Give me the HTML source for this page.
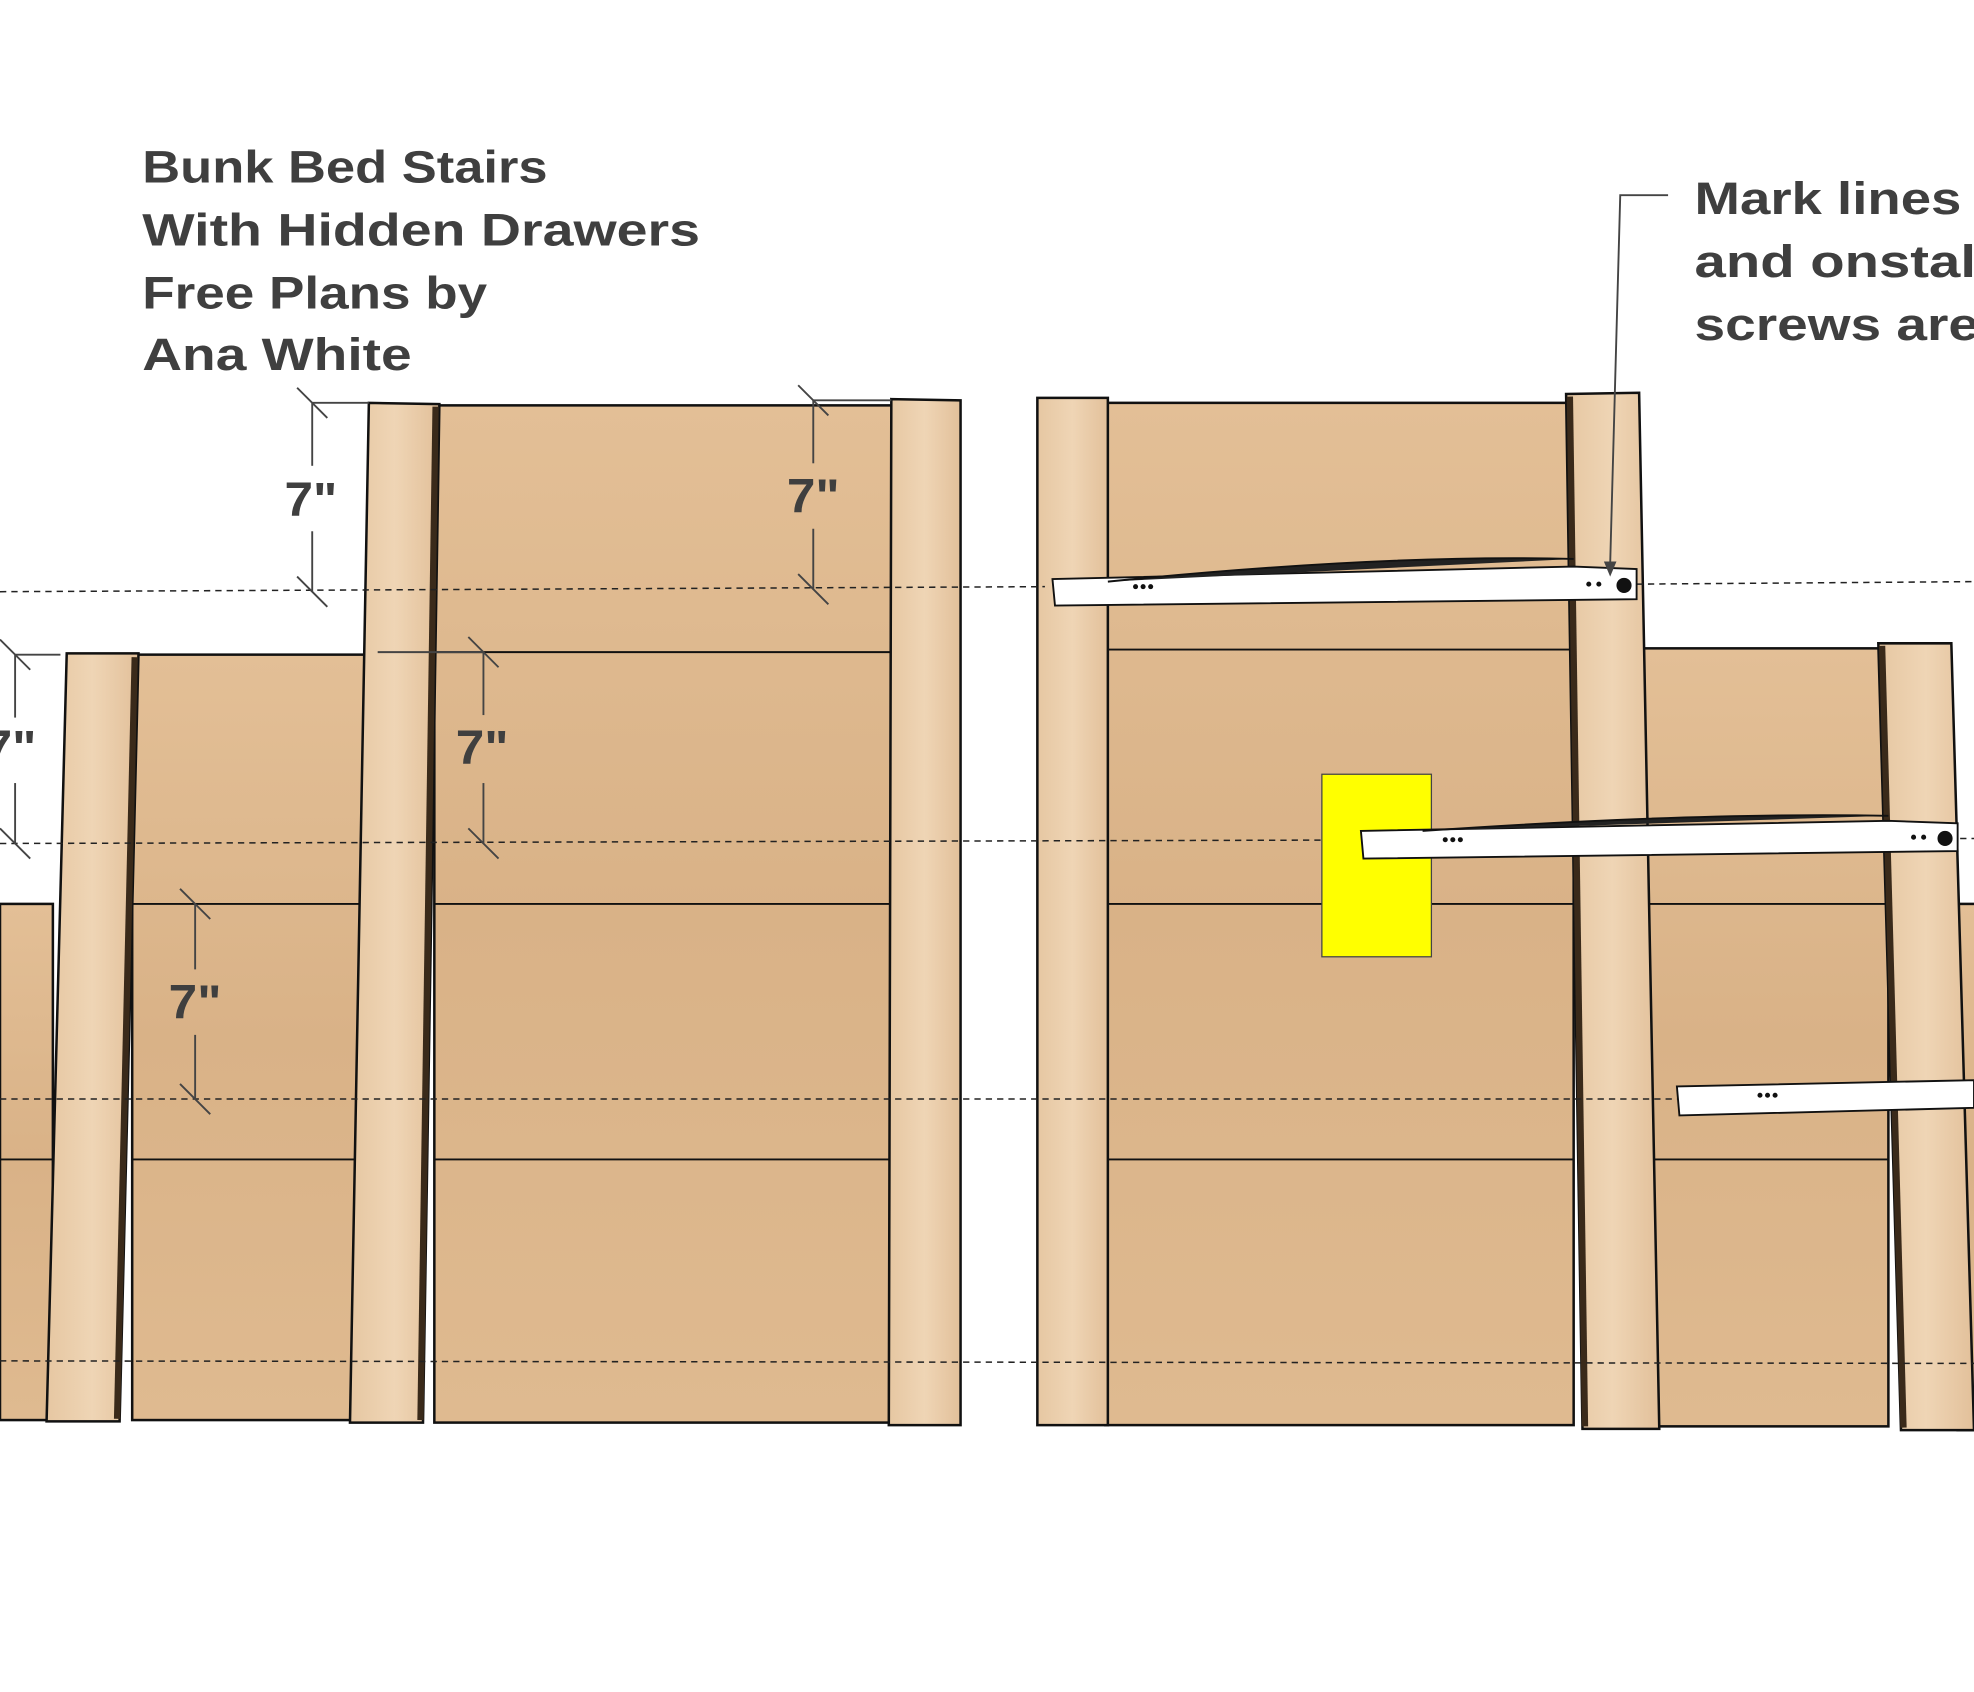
<!DOCTYPE html>
<html><head><meta charset="utf-8"><style>
html,body{margin:0;padding:0;background:#fff;}
svg{display:block;}
text{font-family:"Liberation Sans","DejaVu Sans",sans-serif;font-weight:bold;fill:#3f3f3f;}
</style></head><body>
<svg width="1974" height="1692" viewBox="0 0 1568 1344" xmlns="http://www.w3.org/2000/svg">
<defs>
<linearGradient id="wood" x1="0" y1="0" x2="0" y2="1">
<stop offset="0" stop-color="#e3bf96"/><stop offset="0.5" stop-color="#d9b287"/><stop offset="1" stop-color="#dfba90"/>
</linearGradient>
<linearGradient id="leg" x1="0" y1="0" x2="1" y2="0">
<stop offset="0" stop-color="#e6c7a2"/><stop offset="0.5" stop-color="#efd5b5"/><stop offset="1" stop-color="#e2c09a"/>
</linearGradient>
</defs>
<g stroke="#111" stroke-width="2">
<rect x="0" y="718" width="42" height="410" fill="url(#wood)"/>
<rect x="105" y="520" width="188" height="608" fill="url(#wood)"/>
<rect x="345" y="322" width="365" height="808" fill="url(#wood)"/>
<rect x="878" y="320" width="372" height="812" fill="url(#wood)"/>
<rect x="1305" y="515" width="195" height="618" fill="url(#wood)"/>
<rect x="1555" y="718" width="20" height="418" fill="url(#wood)"/>
</g>
<g stroke="#111" stroke-width="1.5">
<line x1="0" y1="921" x2="42" y2="921"/>
<line x1="105" y1="718" x2="293" y2="718"/><line x1="105" y1="921" x2="293" y2="921"/>
<line x1="345" y1="518" x2="710" y2="518"/><line x1="345" y1="718" x2="710" y2="718"/><line x1="345" y1="921" x2="710" y2="921"/>
<line x1="878" y1="516" x2="1250" y2="516"/><line x1="878" y1="718" x2="1250" y2="718"/><line x1="878" y1="921" x2="1250" y2="921"/>
<line x1="1305" y1="718" x2="1500" y2="718"/><line x1="1305" y1="921" x2="1500" y2="921"/>
</g>
<g stroke="#111" stroke-width="2" fill="url(#leg)">
<polygon points="53,519 110,519 95,1129 37,1129"/>
<polygon points="293,320 349,321 336,1130 278,1130"/>
<polygon points="708,317 763,318 763,1132 706,1132"/>
<polygon points="824,316 880,316 880,1132 824,1132"/>
<polygon points="1244,313 1302,312 1318,1135 1257,1135"/>
<polygon points="1492,511 1550,511 1568,1136 1510,1136"/>
</g>
<g stroke="#3a2a1a" stroke-width="5">
<line x1="107" y1="522" x2="93" y2="1127"/>
<line x1="346" y1="323" x2="334" y2="1128"/>
<line x1="1247" y1="315" x2="1259" y2="1133"/>
<line x1="1495" y1="513" x2="1512" y2="1134"/>
</g>
<g stroke="#222" stroke-width="1.2" stroke-dasharray="5,4">
<line x1="0" y1="470" x2="830" y2="466"/><line x1="1300" y1="464" x2="1568" y2="462"/>
<line x1="0" y1="670" x2="1568" y2="666"/>
<line x1="0" y1="873" x2="1568" y2="873"/>
<line x1="0" y1="1081" x2="1568" y2="1083"/>
</g>
<rect x="1050" y="615" width="87" height="145" fill="#ffff00" stroke="#444" stroke-width="1"/>
<g stroke="#111" stroke-width="1.5" fill="#fff">
<polygon points="836,460 1250,450 1300,452 1300,476 838,481"/>
<path d="M880,462 Q1100,440 1250,444" fill="#222"/>
<polygon points="1081,660 1500,652 1555,654 1555,676 1083,682"/>
<path d="M1130,660 Q1350,645 1500,648" fill="#222"/>
<polygon points="1332,863 1568,858 1568,880 1334,886"/>
</g>
<g fill="#111"><circle cx="1290" cy="465" r="6"/><circle cx="1545" cy="666" r="6"/>
<circle cx="902" cy="466" r="2"/><circle cx="908" cy="466" r="2"/><circle cx="914" cy="466" r="2"/>
<circle cx="1148" cy="667" r="2"/><circle cx="1154" cy="667" r="2"/><circle cx="1160" cy="667" r="2"/>
<circle cx="1398" cy="870" r="2"/><circle cx="1404" cy="870" r="2"/><circle cx="1410" cy="870" r="2"/>
<circle cx="1262" cy="464" r="2"/><circle cx="1270" cy="464" r="2"/><circle cx="1520" cy="665" r="2"/><circle cx="1528" cy="665" r="2"/></g>
<g stroke="#444" stroke-width="1.5">
<line x1="248" y1="320" x2="248" y2="370"/><line x1="248" y1="422" x2="248" y2="470"/>
<line x1="236" y1="308" x2="260" y2="332"/><line x1="236" y1="458" x2="260" y2="482"/><line x1="248" y1="320" x2="293" y2="320"/>
<line x1="646" y1="318" x2="646" y2="368"/><line x1="646" y1="420" x2="646" y2="468"/>
<line x1="634" y1="306" x2="658" y2="330"/><line x1="634" y1="456" x2="658" y2="480"/><line x1="646" y1="318" x2="708" y2="318"/>
<line x1="384" y1="518" x2="384" y2="568"/><line x1="384" y1="622" x2="384" y2="670"/>
<line x1="372" y1="506" x2="396" y2="530"/><line x1="372" y1="658" x2="396" y2="682"/><line x1="300" y1="518" x2="384" y2="518"/>
<line x1="12" y1="520" x2="12" y2="570"/><line x1="12" y1="622" x2="12" y2="670"/>
<line x1="0" y1="508" x2="24" y2="532"/><line x1="0" y1="658" x2="24" y2="682"/><line x1="12" y1="520" x2="48" y2="520"/>
<line x1="155" y1="718" x2="155" y2="770"/><line x1="155" y1="822" x2="155" y2="873"/>
<line x1="143" y1="706" x2="167" y2="730"/><line x1="143" y1="861" x2="167" y2="885"/>
<polyline points="1325,155 1287,155 1279,448" fill="none"/>
</g>
<polygon points="1274,446 1284,446 1279,458" fill="#444"/>
<g font-size="38">
<text x="226" y="410" textLength="42" lengthAdjust="spacingAndGlyphs">7"</text>
<text x="625" y="407" textLength="42" lengthAdjust="spacingAndGlyphs">7"</text>
<text x="362" y="607" textLength="42" lengthAdjust="spacingAndGlyphs">7"</text>
<text x="-13" y="607" textLength="42" lengthAdjust="spacingAndGlyphs">7"</text>
<text x="134" y="809" textLength="42" lengthAdjust="spacingAndGlyphs">7"</text>
</g>
<g font-size="36">
<text x="113" y="145" textLength="322" lengthAdjust="spacingAndGlyphs">Bunk Bed Stairs</text>
<text x="113" y="195" textLength="443" lengthAdjust="spacingAndGlyphs">With Hidden Drawers</text>
<text x="113" y="245" textLength="274" lengthAdjust="spacingAndGlyphs">Free Plans by</text>
<text x="113" y="294" textLength="214" lengthAdjust="spacingAndGlyphs">Ana White</text>
<text x="1346" y="170" textLength="212" lengthAdjust="spacingAndGlyphs">Mark lines</text>
<text x="1346" y="220" textLength="236" lengthAdjust="spacingAndGlyphs">and onstall</text>
<text x="1346" y="270" textLength="226" lengthAdjust="spacingAndGlyphs">screws are</text>
</g>
</svg>
</body></html>
